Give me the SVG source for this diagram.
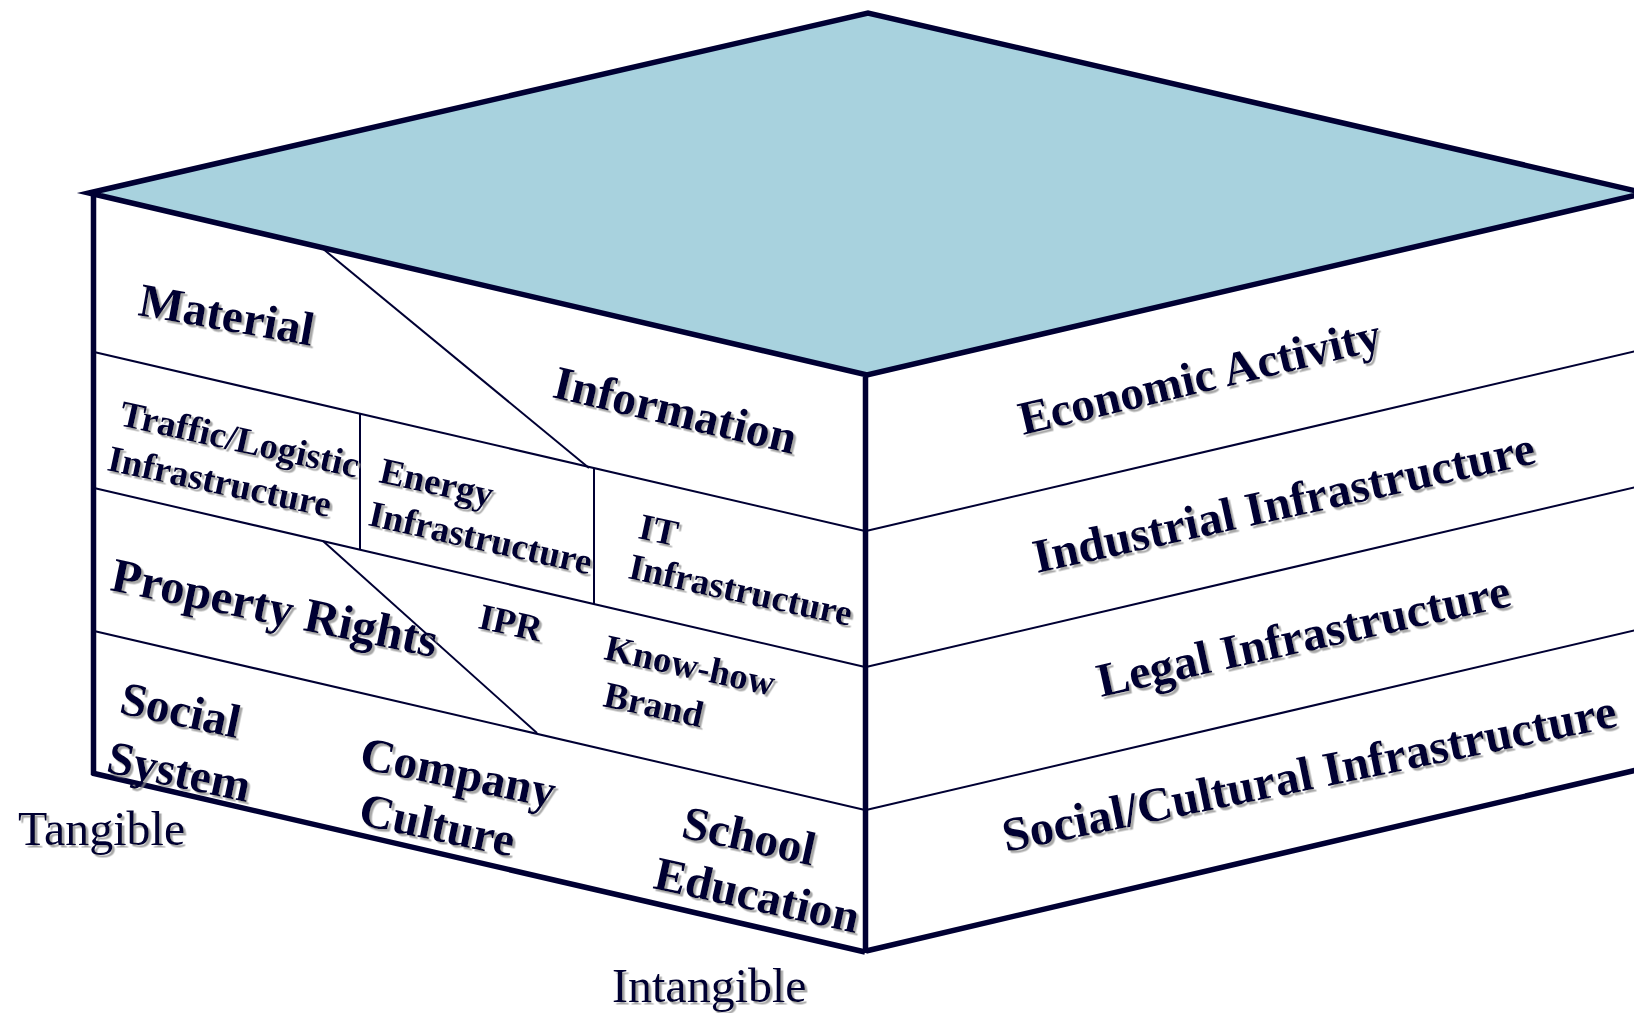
<svg xmlns="http://www.w3.org/2000/svg" width="1634" height="1013" viewBox="0 0 1634 1013">
  <defs>
    <style>
      .thick { stroke: #000033; stroke-width: 5.5; fill: none; stroke-linecap: butt; }
      .thin { stroke: #000033; stroke-width: 2; fill: none; }
      .lbl { font-family: "Liberation Serif", "Times New Roman", serif; font-weight: bold; fill: #000033; }
      .big { font-size: 47.5px; }
      .small { font-size: 37px; }
      .right { font-size: 48px; }
      .axis { font-family: "Liberation Serif", "Times New Roman", serif; font-size: 48px; fill: #000033; }
    </style>
    <filter id="sh" x="-10%" y="-10%" width="120%" height="130%">
      <feDropShadow dx="2.5" dy="2.5" stdDeviation="0.7" flood-color="#8c8c8c" flood-opacity="0.75"/>
    </filter>
  </defs>
  <rect x="0" y="0" width="1634" height="1013" fill="#ffffff"/>

  <!-- top face -->
  <g id="top-face">
    <polygon points="89,193 868,13 1645,193 867,375" fill="#a8d2de" stroke="#000033" stroke-width="5.5" stroke-linejoin="miter" stroke-miterlimit="10"/>
  </g>

  <!-- internal division lines -->
  <g id="connectors">
    <!-- left face layers -->
    <line class="thin" x1="94" y1="352" x2="865" y2="531"/>
    <line class="thin" x1="94" y1="488" x2="865" y2="667"/>
    <line class="thin" x1="94" y1="631" x2="865" y2="810"/>
    <!-- left face dividers -->
    <line class="thin" x1="322" y1="248" x2="589" y2="468"/>
    <line class="thin" x1="360" y1="414" x2="360" y2="549"/>
    <line class="thin" x1="594" y1="468" x2="594" y2="604"/>
    <line class="thin" x1="323" y1="541" x2="537" y2="733"/>
    <!-- right face layers -->
    <line class="thin" x1="866" y1="531" x2="1645" y2="349"/>
    <line class="thin" x1="866" y1="667" x2="1645" y2="485"/>
    <line class="thin" x1="866" y1="810" x2="1645" y2="628"/>
  </g>

  <!-- outer edges -->
  <g id="edges">
    <line class="thick" x1="93.5" y1="195" x2="93.5" y2="775"/>
    <line class="thick" x1="865.5" y1="377" x2="865.5" y2="953"/>
    <line class="thick" x1="92" y1="773" x2="865" y2="952"/>
    <line class="thick" x1="866" y1="951" x2="1645" y2="768"/>
  </g>

  <!-- left face labels -->
  <g id="material" filter="url(#sh)">
    <text class="lbl big" transform="translate(137,315) rotate(10)">Material</text>
  </g>
  <g id="information" filter="url(#sh)">
    <text class="lbl big" transform="translate(551,397) rotate(13.3)">Information</text>
  </g>
  <g id="traffic" filter="url(#sh)">
    <text class="lbl small" transform="translate(118,425) rotate(12.5)">Traffic/Logistic</text>
    <text class="lbl small" transform="translate(106,470) rotate(12)">Infrastructure</text>
  </g>
  <g id="energy" filter="url(#sh)">
    <text class="lbl small" transform="translate(378,482) rotate(12.5)">Energy</text>
    <text class="lbl small" transform="translate(367,525) rotate(12.6)">Infrastructure</text>
  </g>
  <g id="it" filter="url(#sh)">
    <text class="lbl small" transform="translate(637,538) rotate(12.2)">IT</text>
    <text class="lbl small" transform="translate(627,578) rotate(12.2)">Infrastructure</text>
  </g>
  <g id="property-rights" filter="url(#sh)">
    <text class="lbl" font-size="48.5" transform="translate(109,590) rotate(11.7)">Property Rights</text>
  </g>
  <g id="ipr" filter="url(#sh)">
    <text class="lbl small" transform="translate(477,628) rotate(12.3)">IPR</text>
  </g>
  <g id="knowhow" filter="url(#sh)">
    <text class="lbl small" transform="translate(603,659) rotate(12.3)">Know-how</text>
    <text class="lbl small" transform="translate(602,706) rotate(12.3)">Brand</text>
  </g>
  <g id="social-system" filter="url(#sh)">
    <text class="lbl big" transform="translate(118,713) rotate(12)">Social</text>
    <text class="lbl big" transform="translate(105,772) rotate(12)">System</text>
  </g>
  <g id="company-culture" filter="url(#sh)">
    <text class="lbl big" transform="translate(358,768) rotate(11.6)">Company</text>
    <text class="lbl big" transform="translate(357,824) rotate(12)">Culture</text>
  </g>
  <g id="school-education" filter="url(#sh)">
    <text class="lbl big" transform="translate(680,837) rotate(12.3)">School</text>
    <text class="lbl big" transform="translate(652,888) rotate(12.5)">Education</text>
  </g>

  <!-- right face labels -->
  <g id="economic-activity" filter="url(#sh)">
    <text class="lbl" font-size="47.5" transform="translate(1023,435) rotate(-13.4)">Economic Activity</text>
  </g>
  <g id="industrial" filter="url(#sh)">
    <text class="lbl right" transform="translate(1037,573) rotate(-12.4)">Industrial Infrastructure</text>
  </g>
  <g id="legal" filter="url(#sh)">
    <text class="lbl right" transform="translate(1101,697) rotate(-12.5)">Legal Infrastructure</text>
  </g>
  <g id="social-cultural" filter="url(#sh)">
    <text class="lbl" font-size="48.5" transform="translate(1006,852) rotate(-11.6)">Social/Cultural Infrastructure</text>
  </g>

  <!-- axis labels -->
  <g id="tangible" filter="url(#sh)">
    <text class="axis" x="18" y="845">Tangible</text>
  </g>
  <g id="intangible" filter="url(#sh)">
    <text class="axis" x="612" y="1002">Intangible</text>
  </g>
</svg>
